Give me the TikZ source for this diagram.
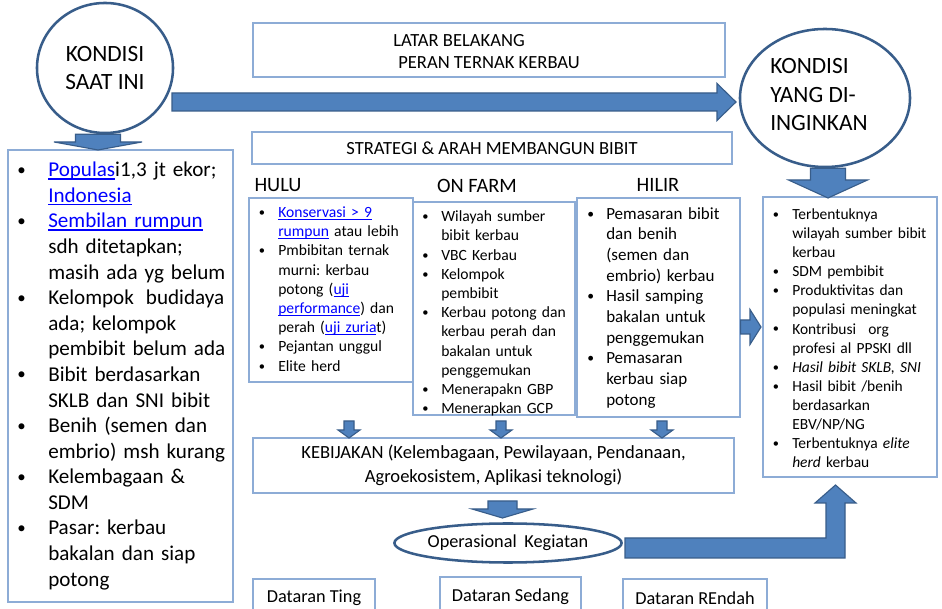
\documentclass[tikz,border=0pt]{standalone}
\usepackage{fontspec}
\setmainfont{Carlito}
\usetikzlibrary{calc}
\usetikzlibrary{shapes.geometric}
\frenchspacing

\definecolor{garis}{RGB}{141,172,214}
\definecolor{panahisi}{RGB}{79,129,189}
\definecolor{panahtepi}{RGB}{56,93,138}
\definecolor{tautan}{RGB}{0,0,255}

\newlength\upx \setlength\upx{0.025cm} % one pixel of the drawing
\newlength\itmind \newlength\itmlab
\newcommand{\setind}[2]{\setlength\itmind{#1\upx}\setlength\itmlab{#2\upx}}
\newcommand{\lnk}[1]{\textcolor{tautan}{\setbox0\hbox{#1}\rlap{\rule[-0.14em]{\wd0}{0.065em}}\box0}}
\newcommand{\itm}[1]{\ifhmode\unskip\fi{\leftskip=\itmind\relax\noindent
  \llap{\makebox[\itmlab][l]{\raisebox{0.07em}{\scalebox{0.8}{\textbullet}}}}#1\par}}

% block arrows: #1 start, #2 tip, #3 half shaft, #4 half head, #5 head length
\newcommand{\fatdown}[5]{%
  \draw[fatarrow] ($(#2|-#1)+(-#3,0)$) -- ($(#2|-#1)+(#3,0)$) -- ($(#2)+(#3,-#5)$)
    -- ($(#2)+(#4,-#5)$) -- (#2) -- ($(#2)+(-#4,-#5)$) -- ($(#2)+(-#3,-#5)$) -- cycle;}
\newcommand{\fatright}[5]{%
  \draw[fatarrow] ($(#1|-#2)+(0,-#3)$) -- ($(#2)+(-#5,-#3)$) -- ($(#2)+(-#5,-#4)$)
    -- (#2) -- ($(#2)+(-#5,#4)$) -- ($(#2)+(-#5,#3)$) -- ($(#1|-#2)+(0,#3)$) -- cycle;}

\tikzset{
  kotak/.style={draw=garis, line width=0.9pt, fill=white, inner sep=0pt},
  bulat/.style={ellipse, draw=panahtepi, line width=1.8pt, fill=white, inner sep=0pt},
  fatarrow/.style={fill=panahisi, draw=panahtepi, line width=0.8pt, line join=miter},
  daftar/.style={anchor=base west, inner sep=0pt, align=left, text width=#1},
  judul/.style={font=\fontsize{14.5}{17}\selectfont}
}

\begin{document}
\begin{tikzpicture}[x=0.025cm, y=-0.025cm]
  \useasboundingbox (0,0) rectangle (942,609);
  \clip (0,0) rectangle (942,609);
  \fill[white] (0,0) rectangle (942,609);

  % kondisi awal dan akhir
  \node [bulat, minimum width=3.4cm, minimum height=3.25cm, align=center,
    font=\fontsize{16.6}{19.9}\selectfont] (kini) at (105,68) {KONDISI\\SAAT INI};
  \node [bulat, minimum width=4.25cm, minimum height=3.45cm] (harap) at (825,98) {};
  \node [anchor=north west, inner sep=0pt, align=left,
    font=\fontsize{16.6}{20.2}\selectfont] (harapteks) at (770,58.5) {KONDISI\\YANG DI-\\INGINKAN};

  \node [kotak, minimum width=11.8cm, minimum height=1.35cm] (latar) at (489,50) {};
  \node [anchor=north west, inner sep=0pt, align=left,
    font=\fontsize{13.2}{15.9}\selectfont] (latarteks) at (393,34)
    {LATAR BELAKANG\\\hspace*{5\upx}PERAN TERNAK KERBAU};
  \node [kotak, minimum width=12cm, minimum height=0.8cm,
    font=\fontsize{13.2}{15.9}\selectfont] (strategi) at (492,148) {STRATEGI \& ARAH MEMBANGUN BIBIT};

  \node [judul] (lhulu) at (278,185) {HULU};
  \node [judul] (lonfarm) at (477,186) {ON FARM};
  \node [judul] (lhilir) at (658,185) {HILIR};

  % kotak kondisi saat ini
  \node [kotak, minimum width=5.625cm, minimum height=11.3cm] (kinibox) at (120.5,376) {};
  \node [daftar=6cm, font=\fontsize{15}{18.2}\selectfont] (kinilist) at (8,176.7) {\setind{40}{31}
    \itm{\lnk{Populas}i1,3 jt ekor;\newline \lnk{Indonesia}}
    \itm{\lnk{Sembilan rumpun}\newline sdh ditetapkan;\newline masih ada yg belum}
    \itm{Kelompok\hspace{5\upx} budidaya\newline ada; kelompok\newline pembibit belum ada}
    \itm{Bibit berdasarkan\newline SKLB dan SNI bibit}
    \itm{Benih (semen dan\newline embrio) msh kurang}
    \itm{Kelembagaan \&\newline SDM}
    \itm{Pasar: kerbau\newline bakalan dan siap\newline potong}};

  % hulu, on farm, hilir
  \node [kotak, minimum width=4.1cm, minimum height=4.6cm] (hulu) at (331,290) {};
  \node [kotak, minimum width=4.05cm, minimum height=5.325cm] (onfarm) at (494,308.5) {};
  \node [kotak, minimum width=4.075cm, minimum height=5.475cm] (hilir) at (658.5,307.5) {};

  \node [daftar=4.8cm, font=\fontsize{11.1}{13.66}\selectfont] (hululist) at (249,217.5) {\setind{29}{19.5}
    \itm{\lnk{Konservasi > 9}\newline \lnk{rumpun} atau lebih}
    \itm{Pmbibitan ternak\newline murni: kerbau\newline potong (\lnk{uji}\newline \lnk{performance}) dan\newline perah (\lnk{uji zuria}t)}
    \itm{Pejantan unggul}
    \itm{Elite herd}};
  \node [daftar=4.8cm, font=\fontsize{11.1}{13.66}\selectfont] (onfarmlist) at (413,221.7) {\setind{28}{19}
    \itm{Wilayah sumber\newline bibit kerbau}
    \itm{VBC Kerbau}
    \itm{Kelompok\newline pembibit}
    \itm{Kerbau potong dan\newline kerbau perah dan\newline bakalan untuk\newline penggemukan}
    \itm{Menerapakn GBP}
    \itm{Menerapkan GCP}};
  \node [daftar=4.8cm, font=\fontsize{12.1}{14.7}\selectfont] (hilirlist) at (577,219.3) {\setind{29}{19}
    \itm{Pemasaran bibit\newline dan benih\newline (semen dan\newline embrio) kerbau}
    \itm{Hasil samping\newline bakalan untuk\newline penggemukan}
    \itm{Pemasaran\newline kerbau siap\newline potong}};

  % kondisi yang diinginkan
  \node [kotak, minimum width=4.35cm, minimum height=7cm] (hasil) at (850,337) {};
  \node [daftar=5cm, font=\fontsize{11}{13.6}\selectfont] (hasillist) at (763,219.3) {\setind{29}{19.5}
    \itm{Terbentuknya\newline wilayah sumber bibit\newline kerbau}
    \itm{SDM pembibit}
    \itm{Produktivitas dan\newline populasi meningkat}
    \itm{Kontribusi\hspace{7\upx} org\newline profesi al PPSKI dll}
    \itm{\textit{Hasil bibit SKLB, SNI}}
    \itm{Hasil bibit /benih\newline berdasarkan\newline EBV/NP/NG}
    \itm{Terbentuknya \textit{elite}\newline \textit{herd} kerbau}};

  % kebijakan dan operasional
  \node [kotak, minimum width=12.025cm, minimum height=1.375cm, align=center,
    font=\fontsize{13.2}{17.2}\selectfont] (kebijakan) at (493.5,465.5)
    {KEBIJAKAN (Kelembagaan, Pewilayaan, Pendanaan,\\Agroekosistem, Aplikasi teknologi)};
  \node [bulat, minimum width=5.55cm, minimum height=0.975cm,
    font=\fontsize{13}{16}\selectfont] (operasional) at (508,543) {Operasional\hspace{3.5\upx} Kegiatan};

  \node [kotak, minimum width=3.05cm, minimum height=0.95cm,
    font=\fontsize{13}{16}\selectfont] (dtinggi) at (314,598) {Dataran Ting};
  \node [kotak, minimum width=3.525cm, minimum height=1cm,
    font=\fontsize{13}{16}\selectfont] (dsedang) at (510.5,597) {Dataran Sedang};
  \node [kotak, minimum width=3.6cm, minimum height=0.95cm,
    font=\fontsize{13}{16}\selectfont] (drendah) at (695,598) {Dataran REndah};

  % panah blok
  \coordinate (kiniT) at (98,150);
  \coordinate (besarS) at (172,102);
  \coordinate (besarT) at (736,102);
  \coordinate (harapT) at (828,198);
  \coordinate (hilirT) at (761,327);
  \coordinate (huluS) at (349,421);   \coordinate (huluT) at (349,438);
  \coordinate (onfarmS) at (501,421); \coordinate (onfarmT) at (501,438);
  \coordinate (hilirS) at (662,421);  \coordinate (hilirB) at (662,438);
  \coordinate (kebS) at (502.5,501);  \coordinate (kebT) at (502.5,518);
  \coordinate (opS) at (625,548);     \coordinate (opT) at (835.5,485);

  \fatdown{kini.south}{kiniT}{22.5}{44}{8}
  \fatright{besarS}{besarT}{9}{18.5}{19}
  \fatdown{harap.south}{harapT}{17.5}{39.5}{18}
  \fatright{hilir.east}{hilirT}{7}{17.5}{11}
  \fatdown{huluS}{huluT}{5}{11}{8}
  \fatdown{onfarmS}{onfarmT}{5}{11}{8}
  \fatdown{hilirS}{hilirB}{5}{11}{8}
  \fatdown{kebS}{kebT}{14.5}{30.5}{9}
  \draw[fatarrow] ($(opS)+(0,-10)$) -- ($(opT|-opS)+(-9.5,-10)$) -- ($(opT)+(-9.5,18)$)
    -- ($(opT)+(-20.5,18)$) -- (opT) -- ($(opT)+(20.5,18)$) -- ($(opT)+(9.5,18)$)
    -- ($(opT|-opS)+(9.5,10)$) -- ($(opS)+(0,10)$) -- cycle;
\end{tikzpicture}
\end{document}
